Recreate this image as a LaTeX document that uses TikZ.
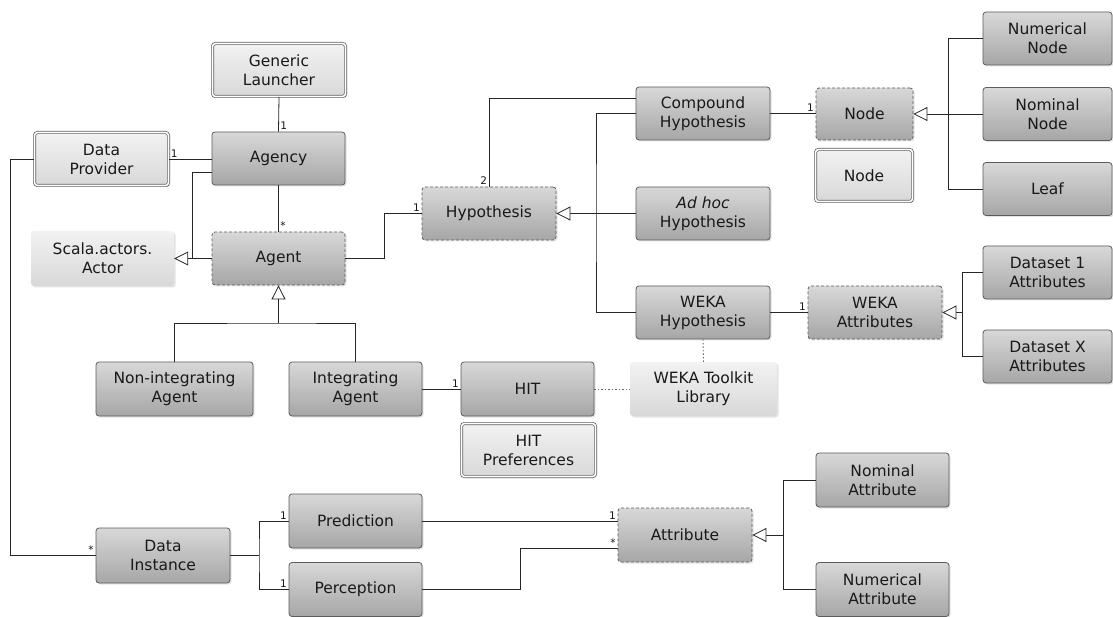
\documentclass[tikz,border=0pt]{standalone}
\usepackage{fontspec}
\setmainfont{DejaVu Sans}
\usetikzlibrary{arrows.meta,shadows,calc}

\definecolor{boxtop}{HTML}{D8D8D8}
\definecolor{boxbot}{HTML}{A6A6A6}
\definecolor{lighttop}{HTML}{F2F2F2}
\definecolor{lightbot}{HTML}{D8D8D8}
\definecolor{edge}{HTML}{5C5C5C}
\definecolor{wire}{HTML}{262626}

\tikzset{
  base/.style={rounded corners=3pt, align=center, inner sep=2pt,
    font=\fontsize{15.5}{19}\selectfont, text=black!90,
    drop shadow={opacity=0.22, shadow xshift=1.5pt, shadow yshift=-1.5pt}},
  sz/.style 2 args={minimum width=#1pt, minimum height=#2pt},
  cls/.style={base, draw=edge, line width=0.8pt, top color=boxtop, bottom color=boxbot},
  abstr/.style={cls, dash pattern=on 3pt off 2pt},
  util/.style={base, draw=edge, line width=0.7pt, double=white, double distance=1.6pt,
    top color=lighttop, bottom color=lightbot},
  ext/.style={base, top color=lighttop, bottom color=lightbot},
  wire/.style={draw=wire, line width=0.8pt},
  gen/.style={wire, -{Triangle[open, length=14pt, width=14pt, fill=white]}},
  dep/.style={draw=black!60, line width=0.9pt, dash pattern=on 1.5pt off 2pt},
  mult/.style={font=\fontsize{10.5}{12}\selectfont, inner sep=1.5pt, text=black!90},
}

\begin{document}
\begin{tikzpicture}[x=1pt, y=-1pt]
\useasboundingbox (0,0) rectangle (1113,617);

% --- agent side ---
\node[util, sz={133}{53}] (gl) at (279,70) {Generic\\Launcher};
\node[util, sz={134}{53}] (dp) at (101.5,159) {Data\\Provider};
\node[cls, sz={133}{53}] (agency) at (278.5,158.5) {Agency};
\node[abstr, sz={133}{53}] (agent) at (278.5,258.5) {Agent};
\node[ext, sz={143}{55}] (scala) at (102.5,258.5) {Scala.actors.\\Actor};
\node[cls, sz={157}{54}] (nonint) at (174.5,389) {Non-integrating\\Agent};
\node[cls, sz={133}{54}] (intag) at (355.5,389) {Integrating\\Agent};
\node[cls, sz={133}{54}] (hit) at (527.5,389) {HIT};
\node[util, sz={134}{53}] (hitp) at (528.5,450) {HIT\\Preferences};
\node[ext, sz={147}{54}] (wtk) at (703.5,389) {WEKA Toolkit\\Library};

% --- hypotheses ---
\node[abstr, sz={134}{53}] (hyp) at (489,213.5) {Hypothesis};
\node[cls, sz={134}{53}] (ch) at (703,113.5) {Compound\\Hypothesis};
\node[cls, sz={134}{53}] (ah) at (703,213.5) {\textit{Ad hoc}\\Hypothesis};
\node[cls, sz={134}{53}] (wh) at (703,312.5) {WEKA\\Hypothesis};
\node[abstr, sz={97}{52}] (noded) at (864.5,114) {Node};
\node[util, sz={97}{52}] (nodeu) at (864,175.5) {Node};
\node[cls, sz={129}{53}] (numnode) at (1047.5,38.5) {Numerical\\Node};
\node[cls, sz={129}{53}] (nomnode) at (1047.5,114) {Nominal\\Node};
\node[cls, sz={129}{53}] (leaf) at (1047.5,189) {Leaf};
\node[abstr, sz={134}{53}] (wa) at (875,312.5) {WEKA\\Attributes};
\node[cls, sz={129}{53}] (d1) at (1047.5,272.5) {Dataset 1\\Attributes};
\node[cls, sz={129}{53}] (dx) at (1047.5,356.5) {Dataset X\\Attributes};

% --- data ---
\node[cls, sz={134}{55}] (di) at (163,555.5) {Data\\Instance};
\node[cls, sz={133}{54}] (pred) at (355.5,521) {Prediction};
\node[cls, sz={133}{54}] (perc) at (355.5,589.5) {Perception};
\node[abstr, sz={134}{54}] (attr) at (685,535) {Attribute};
\node[cls, sz={133}{54}] (nomattr) at (882.5,480) {Nominal\\Attribute};
\node[cls, sz={133}{54}] (numattr) at (882.5,589.5) {Numerical\\Attribute};

% junction points of the branching connectors
\coordinate (j1) at (192,258.5);
\coordinate (j2) at (278.5,323);
\coordinate (j4) at (596,213.5);
\coordinate (j5) at (948,114);
\coordinate (j6) at (962,312.5);
\coordinate (j7) at (783,535);
\coordinate (j8) at (259,555.5);

% associations
\draw[wire] (gl.south) -- (agency.north) node[mult, anchor=south west] {1};
\draw[wire] (dp.east) node[mult, anchor=south west] {1} -- (dp.east -| agency.west);
\draw[wire] (agency.south) -- (agent.north) node[mult, anchor=south west] {*};
\draw[wire] (dp.west) -- ++(-24,0) |- (di.west) node[mult, anchor=south east] {*};
\draw[wire] (agent.east) -- ++(39,0) |- (hyp.west) node[mult, anchor=south east] {1};
\draw[wire] (hyp.north) node[mult, anchor=south east] {2} |- ($(ch.west)+(0,-15.5)$);
\draw[wire] (ch.east) -- (ch.east -| noded.west) node[mult, anchor=south east] {1};
\draw[wire] (wh.east) -- (wa.west) node[mult, anchor=south east] {1};
\draw[wire] (intag.east) -- (hit.west) node[mult, anchor=south east] {1};
\draw[wire] (di.east) -- (j8);
\draw[wire] (pred.west) node[mult, anchor=south east] {1} -| (j8)
  |- (perc.west) node[mult, anchor=south east] {1};
\draw[wire] (pred.east) -- (pred.east -| attr.west) node[mult, anchor=south east] {1};
\draw[wire] (perc.east) -- ++(98,0) |- ($(attr.west)+(0,13)$) node[mult, anchor=south east] {*};

% dependencies on the toolkit
\draw[dep] (hit.east) -- (wtk.west);
\draw[dep] (wh.south) -- (wtk.north);

% generalizations
\draw[wire] ($(agency.west)+(0,13.5)$) -| (j1);
\draw[gen] (agent.west) -- (scala.east);
\draw[gen] (j2) -- (agent.south);
\draw[wire] (nonint.north) |- (j2) -| (intag.north);
\draw[gen] (ah.west) -- (hyp.east);
\draw[wire] (ch.west) -| (j4) |- (wh.west);
\draw[gen] (nomnode.west) -- (noded.east);
\draw[wire] (numnode.west) -| (j5) |- (leaf.west);
\draw[gen] (j6) -- (wa.east);
\draw[wire] (d1.west) -| (j6) |- (dx.west);
\draw[gen] (j7) -- (attr.east);
\draw[wire] (nomattr.west) -| (j7) |- (numattr.west);
\end{tikzpicture}
\end{document}
